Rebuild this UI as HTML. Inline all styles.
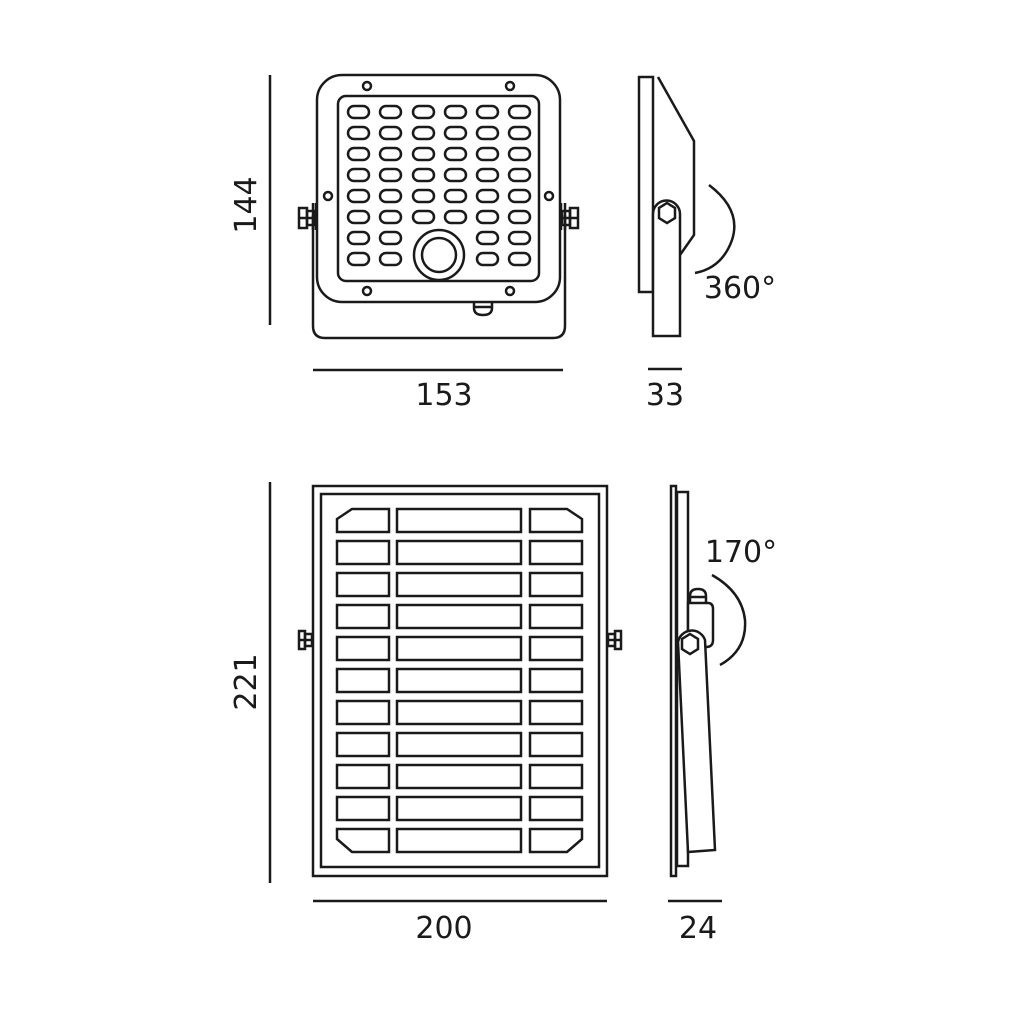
<!DOCTYPE html>
<html><head><style>
html,body{margin:0;padding:0;background:#fff;}
svg{display:block;}
text{font-family:"DejaVu Sans","Liberation Sans",sans-serif;font-size:30px;fill:#1a1a1a;}
</style></head><body>
<svg width="1024" height="1024" viewBox="0 0 1024 1024" xmlns="http://www.w3.org/2000/svg">
<g fill="none" stroke="#1a1a1a" stroke-width="2.5">
<path d="M313,215 V326 Q313,338 325,338 H553 Q565,338 565,326 V215"/>
<rect x="317" y="75" width="243" height="227" rx="25" fill="#fff"/>
<rect x="338" y="96" width="201" height="185" rx="8"/>
<circle cx="439" cy="255" r="25" fill="#fff"/>
<circle cx="439" cy="255" r="17"/>
<circle cx="367" cy="86" r="4"/><circle cx="510" cy="86" r="4"/>
<circle cx="367" cy="291" r="4"/><circle cx="510" cy="291" r="4"/>
<circle cx="328" cy="196" r="4"/><circle cx="549" cy="196" r="4"/>
<rect x="299" y="208" width="8" height="20"/><rect x="307" y="211" width="8" height="14"/>
<line x1="299" y1="218" x2="315" y2="218"/>
<line x1="313" y1="203" x2="313" y2="230"/><line x1="316" y1="203" x2="316" y2="230"/>
<rect x="570" y="208" width="8" height="20"/><rect x="562" y="211" width="8" height="14"/>
<line x1="562" y1="218" x2="578" y2="218"/>
<line x1="561" y1="203" x2="561" y2="230"/><line x1="565" y1="203" x2="565" y2="230"/>
<path d="M474,302 V308 Q474,315 483,315 Q492,315 492,308 V302"/>
<line x1="474" y1="307" x2="492" y2="307"/>

<rect x="639" y="77" width="14" height="215"/>
<path d="M658,77 L694,141 V235 L680,255"/>
<path d="M653,336 V214 A13.5,13.5 0 0 1 680,214 V336 Z" fill="#fff"/>
<polygon points="667,203 675,208 675,218 667,223 659,218 659,208"/>
<path d="M709,185 Q742,210 732,240 Q722,268 695,273"/>

<rect x="313" y="486" width="294" height="390"/>
<rect x="321" y="494" width="278" height="373"/>
<rect x="299" y="631" width="6" height="18"/><rect x="305" y="634" width="7" height="12"/>
<line x1="299" y1="640" x2="312" y2="640"/>
<rect x="615" y="631" width="6" height="18"/><rect x="608" y="634" width="7" height="12"/>
<line x1="608" y1="640" x2="621" y2="640"/>

<rect x="671" y="486" width="5" height="390"/>
<rect x="677" y="492" width="11" height="374"/>
<path d="M688,603 H708 Q713,603 713,609 V640 Q713,647 706,647 H688 Z" fill="#fff"/>
<path d="M690,603 V596 Q690,589 698,589 Q706,589 706,596 V603"/>
<line x1="690" y1="597" x2="706" y2="597"/>
<path d="M678,642 A14,14 0 0 1 705,640 L715,850 L688,852 Z" fill="#fff"/>
<polygon points="690,634 698,639 698,649 690,654 682,649 682,639"/>
<path d="M712,575 Q742,592 745,620 Q747,650 720,665"/>

<line x1="270" y1="75" x2="270" y2="325"/>
<line x1="313" y1="370" x2="563" y2="370"/>
<line x1="648" y1="369" x2="682" y2="369"/>
<line x1="270" y1="482" x2="270" y2="883"/>
<line x1="313" y1="901" x2="607" y2="901"/>
<line x1="668" y1="901" x2="722" y2="901"/>
</g>
<g fill="none" stroke="#1a1a1a" stroke-width="2.5">
<rect x="348" y="106" width="21" height="12" rx="6"/><rect x="380" y="106" width="21" height="12" rx="6"/><rect x="413" y="106" width="21" height="12" rx="6"/><rect x="445" y="106" width="21" height="12" rx="6"/><rect x="477" y="106" width="21" height="12" rx="6"/><rect x="509" y="106" width="21" height="12" rx="6"/>
<rect x="348" y="127" width="21" height="12" rx="6"/><rect x="380" y="127" width="21" height="12" rx="6"/><rect x="413" y="127" width="21" height="12" rx="6"/><rect x="445" y="127" width="21" height="12" rx="6"/><rect x="477" y="127" width="21" height="12" rx="6"/><rect x="509" y="127" width="21" height="12" rx="6"/>
<rect x="348" y="148" width="21" height="12" rx="6"/><rect x="380" y="148" width="21" height="12" rx="6"/><rect x="413" y="148" width="21" height="12" rx="6"/><rect x="445" y="148" width="21" height="12" rx="6"/><rect x="477" y="148" width="21" height="12" rx="6"/><rect x="509" y="148" width="21" height="12" rx="6"/>
<rect x="348" y="169" width="21" height="12" rx="6"/><rect x="380" y="169" width="21" height="12" rx="6"/><rect x="413" y="169" width="21" height="12" rx="6"/><rect x="445" y="169" width="21" height="12" rx="6"/><rect x="477" y="169" width="21" height="12" rx="6"/><rect x="509" y="169" width="21" height="12" rx="6"/>
<rect x="348" y="190" width="21" height="12" rx="6"/><rect x="380" y="190" width="21" height="12" rx="6"/><rect x="413" y="190" width="21" height="12" rx="6"/><rect x="445" y="190" width="21" height="12" rx="6"/><rect x="477" y="190" width="21" height="12" rx="6"/><rect x="509" y="190" width="21" height="12" rx="6"/>
<rect x="348" y="211" width="21" height="12" rx="6"/><rect x="380" y="211" width="21" height="12" rx="6"/><rect x="413" y="211" width="21" height="12" rx="6"/><rect x="445" y="211" width="21" height="12" rx="6"/><rect x="477" y="211" width="21" height="12" rx="6"/><rect x="509" y="211" width="21" height="12" rx="6"/>
<rect x="348" y="232" width="21" height="12" rx="6"/><rect x="380" y="232" width="21" height="12" rx="6"/><rect x="477" y="232" width="21" height="12" rx="6"/><rect x="509" y="232" width="21" height="12" rx="6"/>
<rect x="348" y="253" width="21" height="12" rx="6"/><rect x="380" y="253" width="21" height="12" rx="6"/><rect x="477" y="253" width="21" height="12" rx="6"/><rect x="509" y="253" width="21" height="12" rx="6"/>
<path d="M352,509 H389 V532 H337 V519 Z"/><rect x="397" y="509" width="124" height="23"/><path d="M530,509 H567 L582,519 V532 H530 Z"/>
<rect x="337" y="541" width="52" height="23"/><rect x="397" y="541" width="124" height="23"/><rect x="530" y="541" width="52" height="23"/>
<rect x="337" y="573" width="52" height="23"/><rect x="397" y="573" width="124" height="23"/><rect x="530" y="573" width="52" height="23"/>
<rect x="337" y="605" width="52" height="23"/><rect x="397" y="605" width="124" height="23"/><rect x="530" y="605" width="52" height="23"/>
<rect x="337" y="637" width="52" height="23"/><rect x="397" y="637" width="124" height="23"/><rect x="530" y="637" width="52" height="23"/>
<rect x="337" y="669" width="52" height="23"/><rect x="397" y="669" width="124" height="23"/><rect x="530" y="669" width="52" height="23"/>
<rect x="337" y="701" width="52" height="23"/><rect x="397" y="701" width="124" height="23"/><rect x="530" y="701" width="52" height="23"/>
<rect x="337" y="733" width="52" height="23"/><rect x="397" y="733" width="124" height="23"/><rect x="530" y="733" width="52" height="23"/>
<rect x="337" y="765" width="52" height="23"/><rect x="397" y="765" width="124" height="23"/><rect x="530" y="765" width="52" height="23"/>
<rect x="337" y="797" width="52" height="23"/><rect x="397" y="797" width="124" height="23"/><rect x="530" y="797" width="52" height="23"/>
<path d="M337,829 H389 V852 H352 L337,839 Z"/><rect x="397" y="829" width="124" height="23"/><path d="M530,829 H582 V839 L567,852 H530 Z"/>
</g>
<text x="444" y="405" text-anchor="middle">153</text>
<text x="665" y="405" text-anchor="middle">33</text>
<text x="740" y="298" text-anchor="middle">360°</text>
<text x="444" y="938" text-anchor="middle">200</text>
<text x="698" y="938" text-anchor="middle">24</text>
<text x="741" y="562" text-anchor="middle">170°</text>
<text transform="translate(256,205) rotate(-90)" text-anchor="middle">144</text>
<text transform="translate(256,682) rotate(-90)" text-anchor="middle">221</text>
</svg>
</body></html>
